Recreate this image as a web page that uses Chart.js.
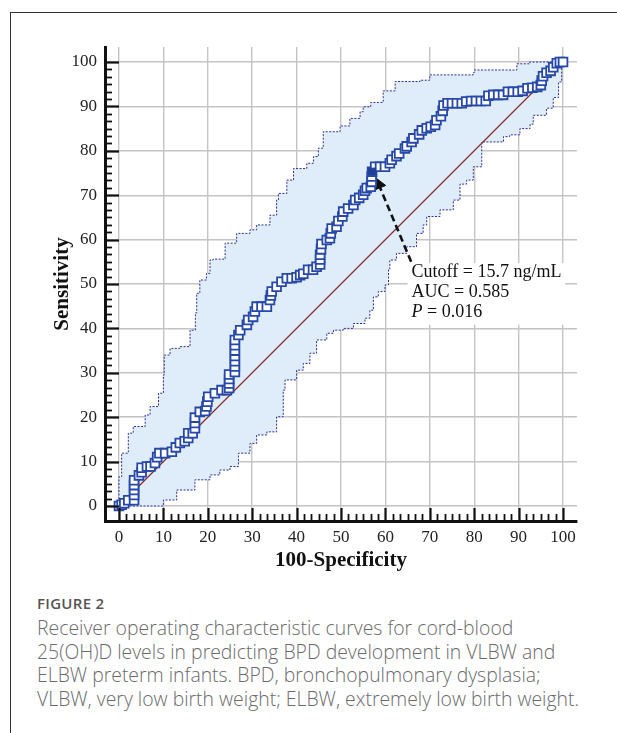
<!DOCTYPE html>
<html>
<head>
<meta charset="utf-8">
<script src="https://cdn.jsdelivr.net/npm/chart.js@4.4.0/dist/chart.umd.min.js"></script>
<style>
html,body{margin:0;padding:0;background:#fff;width:617px;height:733px;overflow:hidden;}
#frame{position:absolute;left:10px;top:12px;width:640px;height:760px;border-top:1px solid #333;border-left:1px solid #333;}
#wrap{position:absolute;left:0;top:0;width:617px;height:590px;}
#cap{position:absolute;left:37px;top:593px;width:580px;font-family:"Open Sans",sans-serif;color:#6a6a6a;}
#cap .fig{font-size:15px;font-weight:600;letter-spacing:0.3px;color:#555;line-height:20px;}
#cap .txt{font-size:19.4px;font-weight:300;line-height:23.7px;margin-top:3px;white-space:nowrap;}
</style>
</head>
<body>
<div id="frame"></div>
<div id="wrap"><canvas id="c" width="617" height="590"></canvas></div>
<div id="cap">
  <div class="fig">FIGURE 2</div>
  <div class="txt">Receiver operating characteristic curves for cord-blood<br>25(OH)D levels in predicting BPD development in VLBW and<br>ELBW preterm infants. BPD, bronchopulmonary dysplasia;<br>VLBW, very low birth weight; ELBW, extremely low birth weight.</div>
</div>
<script>
// ---------- data ----------
const majorTicks = [0, 10, 20, 30, 40, 50, 60, 70, 80, 90, 100];
const tickLabels = ['0', '10', '20', '30', '40', '50', '60', '70', '80', '90', '100'];

// ROC curve (100-Specificity, Sensitivity)
const rocFPR = [0, 0.6, 1.2, 2.1, 3.4, 3.4, 3.4, 3.4, 3.4, 4.5, 5.1, 5.1, 6.3, 7.1, 8.1, 8.6, 9.1, 10.4, 11.9, 12.8,
  13.7, 14.8, 15.6, 15.6, 16.6, 17.1, 17.1, 17.1, 18.2, 19.4, 19.7, 19.9, 20.1, 21.6, 23.1, 24.3, 24.8, 24.8, 24.8, 24.8,
  26.1, 26.1, 26.1, 26.1, 26.1, 26.1, 26.1, 26.9, 27.3, 28.8, 29.1, 30.2, 30.6, 31.0, 32.1, 33.3, 34.0, 34.2, 34.4, 35.5,
  36.6, 37.8, 38.9, 40.0, 40.8, 41.5, 42.6, 43.7, 44.5, 45.3, 45.3, 45.3, 45.5, 45.6, 46.8, 47.5, 47.7, 47.9, 49.0, 49.4,
  50.3, 50.5, 51.6, 52.8, 53.2, 54.1, 55.0, 55.4, 55.8, 56.7, 56.9, 56.9, 57.0, 57.7, 58.8, 59.9, 61.0, 61.4, 62.5, 63.1,
  64.4, 64.8, 65.9, 66.3, 67.6, 68.2, 69.3, 70.2, 71.2, 71.5, 72.5, 72.9, 73.1, 74.0, 75.0, 76.1, 77.2, 78.2, 79.3, 80.4,
  81.5, 82.6, 83.2, 84.3, 85.4, 86.5, 87.6, 88.7, 89.8, 90.9, 92.0, 93.1, 94.2, 95.0, 95.2, 95.5, 96.3, 97.2, 97.8, 98.6,
  99.3, 100];
const rocSens = [0, 0.3, 0.6, 1.3, 1.3, 2.5, 3.6, 4.7, 5.8, 6.9, 7.6, 8.6, 8.9, 8.9, 9.7, 11.0, 11.9, 11.9, 12.2, 13.2,
  14.2, 14.6, 15.3, 16.4, 16.4, 17.5, 18.7, 19.9, 21.2, 21.4, 22.4, 23.5, 24.6, 25.4, 26.1, 26.1, 26.6, 27.6, 28.6, 29.6,
  30.2, 31.4, 32.6, 33.8, 35.0, 36.2, 37.4, 38.5, 39.6, 40.8, 41.9, 42.6, 43.8, 44.9, 44.9, 44.9, 46.4, 47.4, 48.3, 49.4,
  50.5, 51.3, 51.3, 51.5, 52.0, 52.3, 53.2, 53.2, 53.9, 54.4, 55.5, 56.6, 57.8, 59.0, 59.9, 60.3, 61.4, 62.5, 62.9, 64.2,
  65.2, 66.3, 67.0, 67.8, 68.9, 69.4, 70.1, 71.0, 71.6, 71.9, 73.0, 74.2, 75.3, 76.4, 76.4, 76.4, 77.2, 78.0, 78.8, 79.4,
  80.5, 81.0, 82.0, 82.8, 83.7, 84.6, 85.1, 85.4, 85.8, 86.9, 87.8, 89.0, 90.2, 90.7, 90.7, 90.7, 90.7, 91.1, 91.2, 91.2,
  91.2, 91.2, 92.4, 92.6, 92.6, 92.6, 93.3, 93.3, 93.3, 93.5, 94.1, 94.2, 94.4, 94.8, 95.8, 96.8, 97.6, 98.0, 98.8, 99.7,
  100, 100];

// 95% CI upper bound
const ciUpperFPR = [0, 0, 0.6, 2.1, 3.2, 5.9, 7.0, 8.9, 10.0, 10.2, 11.5, 13.7, 16.0, 17.2, 17.5, 18.2, 19.7, 20.5, 21.2,
  23.9, 26.5, 29.5, 31.0, 34.0, 35.5, 35.9, 37.8, 39.3, 42.3, 43.8, 44.9, 46.0, 49.8, 52.0, 54.3, 55.0, 56.7, 59.5, 62.2,
  67.8, 70.0, 73.8, 79.8, 80.0, 88.8, 89.6, 92.5, 100];
const ciUpperSens = [0, 6.6, 11.9, 16.4, 17.9, 20.5, 22.4, 25.4, 29.5, 34.0, 35.5, 35.9, 39.6, 43.5, 47.9, 50.9, 52.4, 55.4, 55.6,
  59.2, 61.4, 62.2, 63.3, 65.5, 68.9, 70.4, 73.4, 76.0, 77.2, 78.7, 80.6, 84.3, 85.6, 87.3, 88.8, 89.9, 90.9, 93.5, 95.6,
  95.9, 97.1, 97.1, 97.6, 98.2, 98.2, 99.6, 100, 100];

// 95% CI lower bound
const ciLowerFPR = [0, 10.0, 10.0, 11.9, 13.0, 17.1, 20.5, 22.7, 25.0, 26.9, 29.5, 31.0, 33.3, 35.5, 37.0, 37.4, 40.0, 41.5,
  43.0, 44.5, 46.8, 48.3, 50.5, 52.8, 55.4, 56.5, 57.3, 58.4, 59.9, 60.7, 61.0, 62.5, 64.8, 67.0, 68.5, 69.3, 72.3, 75.3,
  76.8, 78.3, 79.8, 81.7, 81.7, 86.6, 88.0, 90.3, 92.6, 93.3, 96.3, 97.8, 99.0, 99.7, 100];
const ciLowerSens = [0, 0, 1.35, 1.35, 3.6, 5.9, 7.0, 8.1, 8.9, 11.9, 14.1, 16.0, 16.7, 20.1, 26.1, 28.4, 30.6, 32.1,
  34.4, 37.4, 38.9, 39.6, 40.0, 41.1, 42.3, 44.1, 47.1, 48.3, 49.8, 53.2, 55.4, 56.9, 58.4, 61.4, 63.3, 65.2, 66.7, 68.9,
  72.5, 73.4, 76.4, 77.9, 82.0, 83.2, 83.6, 85.0, 86.0, 88.0, 89.6, 92.0, 95.5, 98.9, 100];

// reference diagonal
const diagFPR = [0, 100];
const diagSens = [0, 100];

// optimal cut-off point
const cutoffFPR = [57.0];
const cutoffSens = [75.3];

// annotation
const annotationLines = ['Cutoff = 15.7 ng/mL', 'AUC = 0.585', '= 0.016'];
const annotationItalic = 'P';
const arrowFPR = [65.8, 58.5];
const arrowSens = [55.0, 72.4];

const xTitle = '100-Specificity';
const yTitle = 'Sensitivity';

// ---------- helpers ----------
const pts = (xs, ys) => xs.map((x, i) => ({x: x, y: ys[i]}));
function stepCorners(p) {
  const out = [p[0]];
  for (let i = 1; i < p.length; i++) { out.push({x: p[i].x, y: p[i - 1].y}); out.push(p[i]); }
  return out;
}
const upperPts = pts(ciUpperFPR, ciUpperSens);
const lowerPts = pts(ciLowerFPR, ciLowerSens);
const bandPolygon = stepCorners(upperPts).concat(stepCorners(lowerPts).reverse());

const SERIF = '"Liberation Serif", "Times New Roman", serif';

// inward ticks on both axes
const inwardTicks = {
  id: 'inwardTicks',
  afterDatasetsDraw(chart) {
    const {ctx, chartArea: a, scales: {x, y}} = chart;
    ctx.save();
    ctx.strokeStyle = '#111';
    const seg = (x1, y1, x2, y2, w) => { ctx.lineWidth = w; ctx.beginPath(); ctx.moveTo(x1, y1); ctx.lineTo(x2, y2); ctx.stroke(); };
    for (let i = 0; i < majorTicks.length; i++) {
      const v = majorTicks[i];
      const px = Math.round(x.getPixelForValue(v)) + 0.5;
      const py = Math.round(y.getPixelForValue(v)) + 0.5;
      seg(px, a.bottom, px, a.bottom - 13, 2.2);
      seg(a.left, py, a.left + 14, py, 2.2);
      if (i < majorTicks.length - 1) {
        const step = (majorTicks[i + 1] - v) / 6;
        for (let k = 1; k < 6; k++) {
          const mx = Math.round(x.getPixelForValue(v + k * step)) + 0.5;
          const my = Math.round(y.getPixelForValue(v + k * step)) + 0.5;
          seg(mx, a.bottom, mx, a.bottom - 7, 1.8);
          seg(a.left, my, a.left + 7, my, 1.8);
        }
      }
    }
    ctx.restore();
  }
};

// annotation box + text
const annotationBox = {
  id: 'annotationBox',
  beforeDatasetsDraw(chart) {
    const {ctx, scales: {x, y}} = chart;
    ctx.save();
    ctx.fillStyle = '#fff';
    const l = x.getPixelForValue(65.0), r = x.getPixelForValue(100.5);
    const t = y.getPixelForValue(54.7), b = y.getPixelForValue(40.8);
    ctx.fillRect(l, t, r - l, b - t);
    ctx.restore();
  },
  afterDatasetsDraw(chart) {
    const {ctx, scales: {x, y}} = chart;
    ctx.save();
    ctx.fillStyle = '#111';
    ctx.textBaseline = 'middle';
    const tx = x.getPixelForValue(65.9);
    const ty = y.getPixelForValue(52.7);
    ctx.font = '18px ' + SERIF;
    ctx.fillText(annotationLines[0], tx, ty);
    ctx.fillText(annotationLines[1], tx, ty + 20);
    ctx.font = 'italic 18px ' + SERIF;
    ctx.fillText(annotationItalic, tx, ty + 40);
    const w = ctx.measureText(annotationItalic + ' ').width;
    ctx.font = '18px ' + SERIF;
    ctx.fillText(annotationLines[2], tx + w, ty + 40);
    ctx.restore();
  }
};

new Chart(document.getElementById('c'), {
  type: 'scatter',
  data: {
    datasets: [
      { // ROC
        data: pts(rocFPR, rocSens), showLine: true, order: 2,
        borderColor: '#2648a8', borderWidth: 1.5,
        pointStyle: 'rect', pointRadius: 6.2, pointBorderWidth: 1.8,
        pointBorderColor: '#2648a8', pointBackgroundColor: '#ffffff'
      },
      { // cutoff
        data: pts(cutoffFPR, cutoffSens), order: 1,
        pointStyle: 'rect', pointRadius: 5, pointBorderWidth: 1,
        pointBorderColor: '#1f3f9a', pointBackgroundColor: '#1f3f9a'
      },
      { // arrow
        data: pts(arrowFPR, arrowSens), showLine: true, order: 3,
        borderColor: '#111', borderWidth: 2.6, borderDash: [7, 4],
        pointStyle: 'triangle', pointRadius: [0, 7], pointRotation: -22.6,
        pointBackgroundColor: '#111', pointBorderColor: '#111', pointBorderWidth: 1
      },
      { // diagonal
        data: pts(diagFPR, diagSens), showLine: true, order: 5,
        borderColor: '#8b2a2a', borderWidth: 1.2, pointRadius: 0
      },
      { // CI upper
        data: upperPts, showLine: true, stepped: 'before', order: 6,
        borderColor: '#2a2f98', borderWidth: 1, borderDash: [2, 1.5], pointRadius: 0
      },
      { // CI lower
        data: lowerPts, showLine: true, stepped: 'before', order: 7,
        borderColor: '#2a2f98', borderWidth: 1, borderDash: [2, 1.5], pointRadius: 0
      },
      { // CI band fill
        data: bandPolygon, showLine: true, fill: 'shape', order: 10,
        borderWidth: 0, borderColor: 'rgba(0,0,0,0)', backgroundColor: '#deedf9', pointRadius: 0
      }
    ]
  },
  options: {
    responsive: false, animation: false, devicePixelRatio: 1,
    layout: {padding: {left: 10, top: 47, right: 40, bottom: 0}},
    plugins: {legend: {display: false}, tooltip: {enabled: false}},
    scales: {
      x: {
        type: 'linear', min: -3.15, max: 103.15,
        afterBuildTicks: s => { s.ticks = majorTicks.map(v => ({value: v})); },
        afterFit: s => { s.height = 69; },
        grid: {color: '#c4c4c4', lineWidth: 1.4, drawTicks: false},
        border: {display: true, color: '#111', width: 3},
        ticks: {padding: 6, color: '#222', font: {family: SERIF, size: 17}, maxRotation: 0, autoSkip: false,
          callback: v => tickLabels[majorTicks.indexOf(v)]},
        title: {display: true, text: xTitle, color: '#111', font: {family: SERIF, size: 21, weight: 'bold'},
          padding: {top: 0, bottom: 17}}
      },
      y: {
        type: 'linear', min: -3.38, max: 103.38,
        afterBuildTicks: s => { s.ticks = majorTicks.map(v => ({value: v})); },
        afterFit: s => { s.width = 95; },
        grid: {color: '#c4c4c4', lineWidth: 1.4, drawTicks: false},
        border: {display: true, color: '#111', width: 3},
        ticks: {padding: 8, color: '#222', font: {family: SERIF, size: 17}, autoSkip: false,
          callback: v => tickLabels[majorTicks.indexOf(v)]},
        title: {display: true, text: yTitle, color: '#111', font: {family: SERIF, size: 21, weight: 'bold'},
          padding: {top: 40, bottom: 0}}
      }
    }
  },
  plugins: [annotationBox, inwardTicks]
});
</script>
</body>
</html>
